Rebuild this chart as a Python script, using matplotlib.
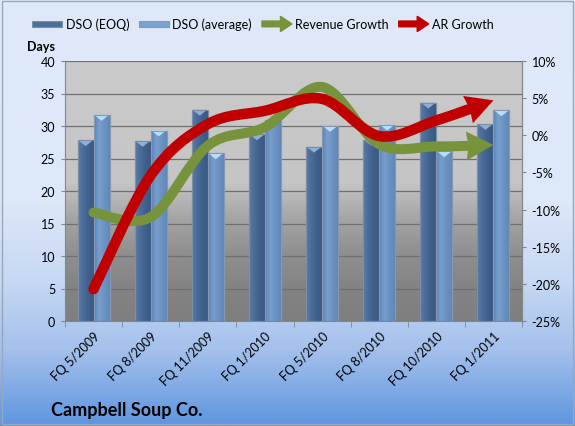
import numpy as np
import matplotlib
matplotlib.use("Agg")
import matplotlib.pyplot as plt
from matplotlib.path import Path
from matplotlib.patches import PathPatch, Polygon, Rectangle, Patch, FancyArrow
from matplotlib.colors import LinearSegmentedColormap
from matplotlib.legend_handler import HandlerPatch
from matplotlib.ticker import FuncFormatter

# ---------------- data ----------------
categories = ["FQ 5/2009", "FQ 8/2009", "FQ 11/2009", "FQ 1/2010",
              "FQ 5/2010", "FQ 8/2010", "FQ 10/2010", "FQ 1/2011"]
dso_eoq = [27.8, 27.7, 32.5, 28.7, 26.8, 27.9, 33.6, 30.3]
dso_avg = [31.7, 29.3, 25.8, 31.0, 30.0, 30.2, 26.1, 32.4]
revenue_growth = [-10.4, -11.0, -1.4, 1.1, 6.5, -1.2, -1.5, -1.3]
ar_growth = [-20.7, -5.4, 1.5, 3.3, 4.9, -0.1, 2.0, 4.7]
days_ticks = [0, 5, 10, 15, 20, 25, 30, 35, 40]
pct_ticks = [-25, -20, -15, -10, -5, 0, 5, 10]

FONT = "Lato"
plt.rcParams["font.family"] = [FONT, "DejaVu Sans"]

W, H, DPI = 575, 427, 100
fig = plt.figure(figsize=(W / DPI, H / DPI), dpi=DPI)

# ---------------- figure background ----------------
bg = fig.add_axes([0, 0, 1, 1], zorder=-10)
bg_cmap = LinearSegmentedColormap.from_list(
    "bg", [(0, "#dfe9f9"), (0.48, "#dce7f8"), (0.66, "#c6d8f3"),
           (0.82, "#a5c1ec"), (1, "#5e95df")])
bg.imshow(np.linspace(0, 1, 256).reshape(-1, 1), cmap=bg_cmap, aspect="auto",
          extent=(0, 1, 0, 1), origin="upper")
bg.add_patch(Rectangle((0.003, 0.004), 0.994, 0.992, fill=False,
                       edgecolor="#9aa6ba", lw=1.0, transform=bg.transAxes))
bg.set_xlim(0, 1); bg.set_ylim(0, 1)
bg.axis("off")

# ---------------- main axes ----------------
L, R, T, B = 65, 522, 62, 322
ax = fig.add_axes([L / W, 1 - B / H, (R - L) / W, (B - T) / H])
x = np.arange(len(categories))
ax.set_xlim(-0.5, len(categories) - 0.5)
ax.set_ylim(days_ticks[0], days_ticks[-1])

plot_cmap = LinearSegmentedColormap.from_list(
    "plotbg", [(0, "#7f7f7f"), (0.12, "#838383"), (0.25, "#8e8e8e"),
               (0.38, "#a2a2a2"), (0.48, "#b8b8b8"), (0.53, "#c5c5c5"),
               (1, "#cbcbcb")])
ax.imshow(np.linspace(0, 1, 256).reshape(-1, 1), cmap=plot_cmap, aspect="auto",
          extent=(-0.5, len(categories) - 0.5, days_ticks[0], days_ticks[-1]),
          origin="lower", zorder=0)

ax.set_yticks(days_ticks)
ax.yaxis.grid(True, color="#707070", lw=0.9, zorder=1)
ax.set_axisbelow(True)

bw = 0.28
eoq_cmap = LinearSegmentedColormap.from_list("eoq", ["#5b7ba6", "#4b6c98", "#40608c", "#3a5884"])
avg_cmap = LinearSegmentedColormap.from_list("avg", ["#5e84b6", "#789ecd", "#6c92c2", "#6088b8"])
bars_eoq = ax.bar(x - bw / 2, dso_eoq, bw, color="#4a6a96", edgecolor="#7d8ea6", lw=0.8, zorder=2)
bars_avg = ax.bar(x + bw / 2, dso_avg, bw, color="#7398c8", edgecolor="#8898b0", lw=0.8, zorder=2)
grad = np.linspace(0, 1, 64).reshape(1, -1)
for bars, cm, cap in ((bars_eoq, eoq_cmap, "#8fb0d8"), (bars_avg, avg_cmap, "#b8def8")):
    for r in bars:
        x0, w, h = r.get_x(), r.get_width(), r.get_height()
        im = ax.imshow(grad, cmap=cm, aspect="auto", extent=(x0, x0 + w, 0, h),
                       zorder=2.1)
        im.set_clip_path(r)
        ax.add_patch(Polygon([(x0 + 0.04 * w, h), (x0 + 0.96 * w, h), (x0 + w / 2, h - 0.9)],
                             closed=True, facecolor=cap, edgecolor="none", zorder=2.2))
        ax.add_patch(Rectangle((x0, 0), w, h, fill=False, edgecolor=r.get_edgecolor(),
                               lw=0.8, zorder=2.3))

ax.set_xlim(-0.5, len(categories) - 0.5)
ax.set_ylim(days_ticks[0], days_ticks[-1])

for s in ("left", "bottom", "right"):
    ax.spines[s].set_color("#868686")
ax.spines["top"].set_visible(False)
ax.set_xticks(x)
ax.set_xticks(np.arange(-0.5, len(categories), 1.0), minor=True)
ax.tick_params(axis="x", which="major", length=0, pad=6)
ax.tick_params(axis="x", which="minor", length=4, color="#868686")
ax.tick_params(axis="y", length=3, color="#868686", labelsize=9, pad=4)
ax.set_xticklabels(categories, rotation=45, ha="right", va="top",
                   rotation_mode="anchor", fontsize=9)

# ---------------- secondary axis ----------------
ax2 = ax.twinx()
ax2.set_ylim(pct_ticks[0], pct_ticks[-1])
ax2.set_yticks(pct_ticks)
ax2.yaxis.set_major_formatter(FuncFormatter(lambda v, p: f"{v:.0f}%"))
ax2.tick_params(axis="y", length=3, color="#868686", labelsize=9, pad=4)
for s in ax2.spines.values():
    s.set_visible(False)
ax2.spines["right"].set_visible(True)
ax2.spines["right"].set_color("#868686")


def smooth_arrow(axis, xs, ys, color, lw_px, head_len, head_w, z):
    P = np.column_stack([xs, ys]).astype(float)
    n = len(P)
    segs = []
    for i in range(n - 1):
        p_prev = P[i - 1] if i > 0 else P[i]
        p_next = P[i + 2] if i + 2 < n else P[i + 1]
        c1 = P[i] + (P[i + 1] - p_prev) / 6.0
        c2 = P[i + 1] - (p_next - P[i]) / 6.0
        segs.append([P[i], c1, c2, P[i + 1]])
    tr = axis.transData
    p0, c1, c2, p3 = segs[-1]

    def bez(t):
        return ((1 - t) ** 3) * p0 + 3 * ((1 - t) ** 2) * t * c1 + 3 * (1 - t) * t * t * c2 + t ** 3 * p3

    tip_d = tr.transform(p3)
    t_cut = 0.0
    for t in np.linspace(1, 0, 401):
        if np.hypot(*(tr.transform(bez(t)) - tip_d)) >= head_len:
            t_cut = t
            break
    t = t_cut
    q1 = p0 + (c1 - p0) * t
    m = c1 + (c2 - c1) * t
    r2 = c2 + (p3 - c2) * t
    q2 = q1 + (m - q1) * t
    r1 = m + (r2 - m) * t
    q3 = q2 + (r1 - q2) * t
    segs[-1] = [p0, q1, q2, q3]
    verts = [segs[0][0]]
    codes = [Path.MOVETO]
    for s in segs:
        verts += [s[1], s[2], s[3]]
        codes += [Path.CURVE4] * 3
    lw_pt = lw_px * 72.0 / DPI
    axis.add_patch(PathPatch(Path(verts, codes), facecolor="none", edgecolor=color,
                             lw=lw_pt, capstyle="round", joinstyle="round", zorder=z))
    base_d = tr.transform(q3)
    d = tip_d - base_d
    d = d / np.hypot(*d)
    perp = np.array([-d[1], d[0]])
    head = [base_d + perp * head_w / 2, tip_d, base_d - perp * head_w / 2,
            base_d + d * 2.0]
    head = tr.inverted().transform(np.array(head))
    axis.add_patch(Polygon(head, closed=True, facecolor=color, edgecolor="none", zorder=z))


GREEN, RED = "#77933c", "#c00000"
smooth_arrow(ax2, x, revenue_growth, GREEN, 10, 27, 29, 3)
smooth_arrow(ax2, x, ar_growth, RED, 10.5, 27, 29, 4)
ax2.set_ylim(pct_ticks[0], pct_ticks[-1])

# ---------------- legend ----------------
def rect_handle(legend, orig_handle, xdescent, ydescent, width, height, fontsize):
    return Rectangle((-xdescent, -ydescent + height * 0.22), width, height * 0.55)


def arrow_handle(legend, orig_handle, xdescent, ydescent, width, height, fontsize):
    return FancyArrow(-xdescent, -ydescent + height / 2, width, 0, width=height * 0.6,
                      head_width=height * 1.6, head_length=height * 1.2,
                      length_includes_head=True)


h_eoq = Patch(facecolor="#4e6e9a", edgecolor="#7d8ea6", lw=0.8)
h_avg = Patch(facecolor="#7aa2d0", edgecolor="#8898b0", lw=0.8)
h_rev = FancyArrow(0, 0, 1, 0, color=GREEN)
h_ar = FancyArrow(0, 0, 1, 0, color=RED)
fig.legend([h_eoq, h_avg, h_rev, h_ar],
           ["DSO (EOQ)", "DSO (average)", "Revenue Growth", "AR Growth"],
           handler_map={Patch: HandlerPatch(patch_func=rect_handle),
                        FancyArrow: HandlerPatch(patch_func=arrow_handle)},
           loc="center", bbox_to_anchor=(263 / W, 1 - 25 / H), ncol=4,
           frameon=False, fontsize=9, handlelength=2.4, handleheight=0.8,
           handletextpad=0.25, columnspacing=0.8)

fig.text(27 / W, 1 - 47 / H, "Days", fontsize=9, fontweight="bold", va="center", ha="left")
fig.text(51 / W, 1 - 411 / H, "Campbell Soup Co.", fontsize=13, fontweight="bold",
         va="center", ha="left")

fig.savefig("out.png", dpi=DPI)
